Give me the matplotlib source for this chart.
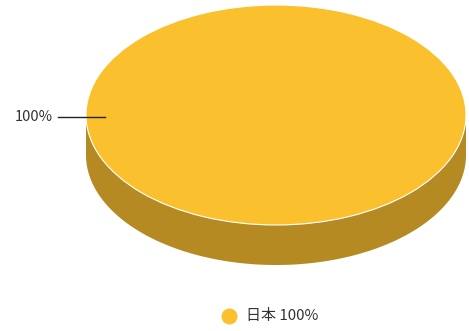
import numpy as np
import matplotlib.pyplot as plt
from matplotlib.patches import Wedge, Polygon
from matplotlib.transforms import Affine2D
from matplotlib.lines import Line2D

plt.rcParams['font.family'] = ['Noto Sans CJK JP', 'DejaVu Sans']

categories = ["日本"]
values = [100]
colors = ["#FBC02D"]
side_colors = ["#B58A22"]

W, H = 469, 331
fig = plt.figure(figsize=(W / 100, H / 100), dpi=100)
ax = fig.add_axes([0, 0, 1, 1])
ax.set_xlim(0, W)
ax.set_ylim(H, 0)
ax.axis("off")

# pie geometry (pixel space, y points down)
cx, cy, rx, ry, depth = 276, 115, 190, 110, 40
ell = Affine2D().scale(rx, ry).translate(cx, cy) + ax.transData


def front_ranges(a0, a1):
    # parts of [a0, a1] (radians) that face the viewer: sin > 0
    out = []
    k = np.floor(a0 / (2 * np.pi)) - 1
    while 2 * np.pi * k < a1:
        lo, hi = max(a0, 2 * np.pi * k), min(a1, 2 * np.pi * k + np.pi)
        if hi > lo:
            out.append((lo, hi))
        k += 1
    return out


total = sum(values)
start = 180.0
for cat, val, col, scol in zip(categories, values, colors, side_colors):
    span = 360.0 * val / total
    for lo, hi in front_ranges(np.radians(start), np.radians(start + span)):
        t = np.linspace(lo, hi, 200)
        xs = cx + rx * np.cos(t)
        ys = cy + ry * np.sin(t)
        pts = np.concatenate([np.c_[xs, ys], np.c_[xs[::-1], ys[::-1] + depth]])
        ax.add_patch(Polygon(pts, closed=True, facecolor=scol, edgecolor="none"))
    ax.add_patch(Wedge((0, 0), 1, start, start + span, facecolor=col,
                       edgecolor="white", linewidth=0.8, transform=ell))
    # label line on the left
    ax.add_line(Line2D([58, 105], [117, 117], color="#222222", linewidth=1.0))
    ax.text(53, 117, f"{val / total * 100:.0f}%", ha="right", va="center",
            fontsize=10.5, color="#333333")
    start += span

# legend
for i, (cat, val, col) in enumerate(zip(categories, values, colors)):
    ax.plot(229, 316, "o", markersize=10.5, color=col)
    ax.text(246, 316, f"{cat} {val / total * 100:.0f}%", ha="left", va="center",
            fontsize=10.8, color="#333333")

fig.savefig("out.png", dpi=100)
